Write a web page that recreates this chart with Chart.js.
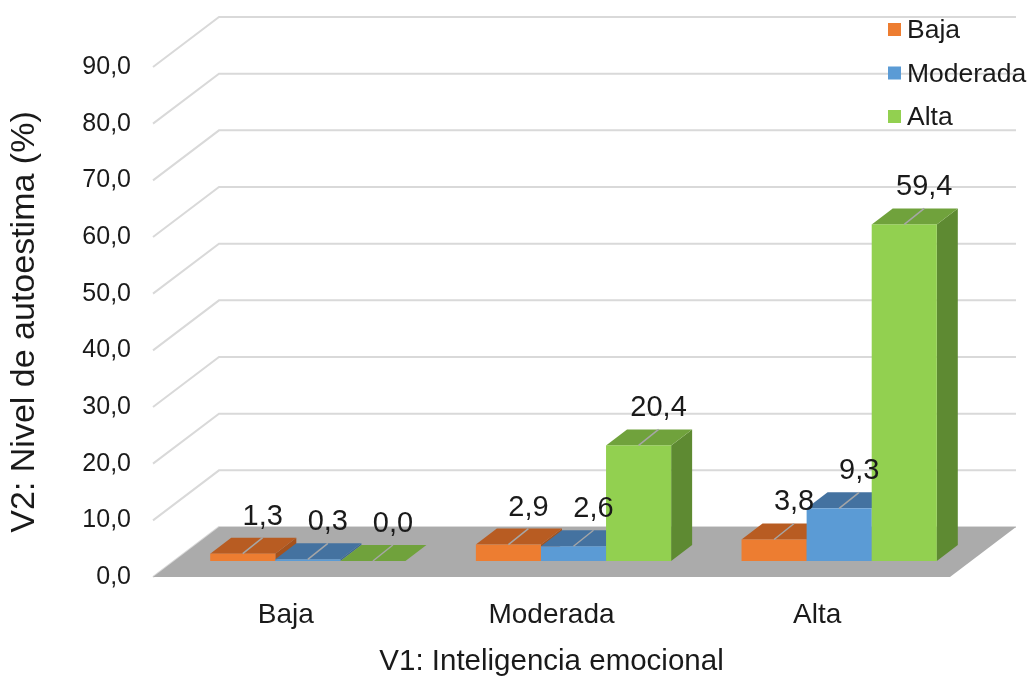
<!DOCTYPE html>
<html>
<head>
<meta charset="utf-8">
<script src="https://cdn.jsdelivr.net/npm/chart.js@4.4.1/dist/chart.umd.min.js"></script>
<style>
  body { margin: 0; background: #fff; }
  #wrap { width: 1036px; height: 683px; }
</style>
</head>
<body>
<div id="wrap"><canvas id="chart"></canvas></div>
<script>
// data
const categories = ['Baja', 'Moderada', 'Alta'];
const seriesNames = ['Baja', 'Moderada', 'Alta'];
const bajaValues = [1.3, 2.9, 3.8];
const moderadaValues = [0.3, 2.6, 9.3];
const altaValues = [0.0, 20.4, 59.4];
const yTicks = [0, 10, 20, 30, 40, 50, 60, 70, 80, 90];

// front / top / side shades for each series
const shades = [
  { front: '#ED7D31', top: '#B85C22', side: '#A5521D' },
  { front: '#5B9BD5', top: '#4472A0', side: '#3D6893' },
  { front: '#92D050', top: '#70A23C', side: '#5E8A32' }
];

const BAR_SHIFT = { x: 22, y: -16 };  // bars sit a bit back from the front plane
const BAR_DEPTH = { x: 21, y: -16 };
const WALL = { x: 66, y: -50 };
const TEXT = '#1a1a1a';
const FONT = '"Liberation Sans", Arial, sans-serif';
const fmt = v => v.toFixed(1).replace('.', ',');

const threeD = {
  id: 'threeD',
  beforeDatasetsDraw(chart) {
    const { ctx, chartArea: a, scales: { y } } = chart;
    ctx.save();
    ctx.strokeStyle = '#D9D9D9';
    ctx.lineWidth = 2;
    yTicks.forEach(v => {
      const py = y.getPixelForValue(v);
      ctx.beginPath();
      ctx.moveTo(a.left, py);
      ctx.lineTo(a.left + WALL.x, py + WALL.y);
      ctx.lineTo(a.right + WALL.x, py + WALL.y);
      ctx.stroke();
    });
    // floor
    const p0 = y.getPixelForValue(0);
    ctx.fillStyle = '#ABABAB';
    ctx.beginPath();
    ctx.moveTo(a.left, p0);
    ctx.lineTo(a.right, p0);
    ctx.lineTo(a.right + WALL.x, p0 + WALL.y);
    ctx.lineTo(a.left + WALL.x, p0 + WALL.y);
    ctx.closePath();
    ctx.fill();
    ctx.restore();
  },
  beforeDatasetDraw() {
    return false; // boxes are drawn in afterDatasetsDraw
  },
  afterDatasetsDraw(chart) {
    const { ctx } = chart;
    const metas = chart.data.datasets.map((d, i) => chart.getDatasetMeta(i));
    const labels = [];
    ctx.save();
    categories.forEach((c, ci) => {
      metas.forEach((meta, di) => {
        const el = meta.data[ci];
        const s = shades[di];
        const L = el.x - el.width / 2 + BAR_SHIFT.x;
        const R = el.x + el.width / 2 + BAR_SHIFT.x;
        const T = el.y + BAR_SHIFT.y;
        const B = el.base + BAR_SHIFT.y;
        const dx = BAR_DEPTH.x, dy = BAR_DEPTH.y;
        ctx.fillStyle = s.side;
        ctx.beginPath();
        ctx.moveTo(R, T); ctx.lineTo(R + dx, T + dy); ctx.lineTo(R + dx, B + dy); ctx.lineTo(R, B);
        ctx.closePath(); ctx.fill();
        ctx.fillStyle = s.top;
        ctx.beginPath();
        ctx.moveTo(L, T); ctx.lineTo(R, T); ctx.lineTo(R + dx, T + dy); ctx.lineTo(L + dx, T + dy);
        ctx.closePath(); ctx.fill();
        if (B - T > 0.5) {
          ctx.fillStyle = s.front;
          ctx.fillRect(L, T, R - L, B - T);
        }
        labels.push({ cx: (L + R) / 2, top: T, v: chart.data.datasets[di].data[ci] });
      });
    });
    // data labels with leader lines
    ctx.strokeStyle = '#A6A6A6';
    ctx.lineWidth = 1.5;
    ctx.fillStyle = TEXT;
    ctx.font = '29px ' + FONT;
    ctx.textAlign = 'center';
    ctx.textBaseline = 'middle';
    labels.forEach(l => {
      ctx.beginPath();
      ctx.moveTo(l.cx, l.top);
      ctx.lineTo(l.cx + 20, l.top - 16);
      ctx.stroke();
      ctx.fillText(fmt(l.v), l.cx + 20, l.top - 37);
    });
    ctx.restore();
  },
  afterDraw(chart) {
    const { ctx } = chart;
    ctx.save();
    ctx.font = '26.5px ' + FONT;
    ctx.textBaseline = 'middle';
    ctx.textAlign = 'left';
    seriesNames.forEach((n, i) => {
      const cy = 30 + i * 43.5;
      ctx.fillStyle = shades[i].front;
      ctx.fillRect(888, cy - 7, 13, 13);
      ctx.fillStyle = TEXT;
      ctx.fillText(n, 907, cy + 1);
    });
    ctx.restore();
  }
};

new Chart(document.getElementById('chart'), {
  type: 'bar',
  data: {
    labels: categories,
    datasets: [
      { label: seriesNames[0], data: bajaValues, backgroundColor: shades[0].front },
      { label: seriesNames[1], data: moderadaValues, backgroundColor: shades[1].front },
      { label: seriesNames[2], data: altaValues, backgroundColor: shades[2].front }
    ]
  },
  options: {
    responsive: true,
    maintainAspectRatio: false,
    animation: false,
    layout: { padding: { top: 67, right: 86, left: 0, bottom: 0 } },
    datasets: { bar: { categoryPercentage: 0.735, barPercentage: 1 } },
    plugins: { legend: { display: false }, tooltip: { enabled: false } },
    scales: {
      x: {
        grid: { display: false, drawTicks: false },
        border: { display: false },
        ticks: { color: TEXT, font: { family: FONT, size: 28 }, padding: 21 },
        title: {
          display: true, text: 'V1: Inteligencia emocional', color: TEXT,
          font: { family: FONT, size: 29.5 }, padding: { top: 0, bottom: 3 }
        },
        afterFit: s => { s.height = 106; }
      },
      y: {
        min: 0, max: 90,
        grid: { display: false, drawTicks: false },
        border: { display: false },
        afterBuildTicks: s => { s.ticks = yTicks.map(v => ({ value: v })); },
        ticks: {
          color: TEXT, font: { family: FONT, size: 25 }, padding: 22,
          callback: v => fmt(v)
        },
        title: {
          display: true, text: 'V2: Nivel de autoestima (%)', color: TEXT,
          font: { family: FONT, size: 34 }, padding: { top: 4, bottom: 0 }
        },
        afterFit: s => { s.width = 153; }
      }
    }
  },
  plugins: [threeD]
});
</script>
</body>
</html>
